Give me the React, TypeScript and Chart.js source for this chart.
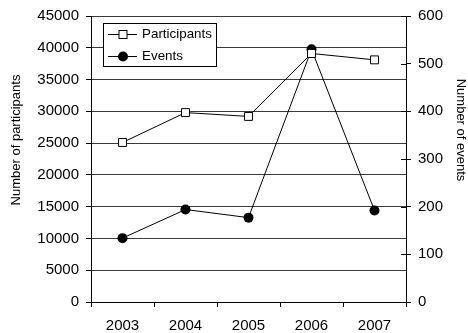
import React, { useEffect, useRef } from "react";
import { Chart, registerables } from "chart.js";

Chart.register(...registerables);

// Yearly totals
const years = ["2003", "2004", "2005", "2006", "2007"];
const participants = [25100, 29800, 29200, 39100, 38100];
const events = [134, 194, 177, 530, 192];

// Axis ranges
const participantsMax = 45000;
const participantsStep = 5000;
const eventsMax = 600;
const eventsStep = 100;

const leftTitle = "Number of participants";
const rightTitle = "Number of events";

const FONT = "'Liberation Sans', Arial, Helvetica, sans-serif";

const plain = (v: any) => String(v);

const decor = {
  id: "decor",
  afterDraw(chart: any) {
    const ctx: CanvasRenderingContext2D = chart.ctx;
    const area = chart.chartArea;
    const y1 = chart.scales.y1;
    ctx.save();

    // inner half of the right-axis tick marks
    ctx.strokeStyle = "#000";
    ctx.lineWidth = 1;
    y1.ticks.forEach((_t: any, i: number) => {
      const py = Math.round(y1.getPixelForTick(i)) + 0.5;
      ctx.beginPath();
      ctx.moveTo(area.right - 5, py);
      ctx.lineTo(area.right, py);
      ctx.stroke();
    });

    // axis titles
    ctx.fillStyle = "#000";
    ctx.textAlign = "center";
    ctx.textBaseline = "middle";
    ctx.font = `13px ${FONT}`;
    ctx.save();
    ctx.translate(16, 140);
    ctx.rotate(-Math.PI / 2);
    ctx.fillText(leftTitle, 0, 0);
    ctx.restore();
    ctx.save();
    ctx.translate(461, 130);
    ctx.rotate(Math.PI / 2);
    ctx.fillText(rightTitle, 0, 0);
    ctx.restore();

    // legend box
    const bx = 103.5, by = 23.5, bw = 113, bh = 43;
    ctx.fillStyle = "#fff";
    ctx.fillRect(bx, by, bw, bh);
    ctx.strokeStyle = "#000";
    ctx.strokeRect(bx, by, bw, bh);
    const rows = [34, 56];
    chart.data.datasets.forEach((ds: any, i: number) => {
      const y = rows[i] + 0.5;
      ctx.strokeStyle = "#000";
      ctx.lineWidth = 1;
      ctx.beginPath();
      ctx.moveTo(108, y);
      ctx.lineTo(137, y);
      ctx.stroke();
      if (ds.pointStyle === "rect") {
        ctx.fillStyle = "#fff";
        ctx.fillRect(119, y - 4, 8, 8);
        ctx.strokeRect(119, y - 4, 8, 8);
      } else {
        ctx.fillStyle = "#000";
        ctx.beginPath();
        ctx.arc(123, y, ds.pointRadius, 0, Math.PI * 2);
        ctx.fill();
      }
      ctx.fillStyle = "#000";
      ctx.textAlign = "left";
      ctx.textBaseline = "middle";
      ctx.font = `13.4px ${FONT}`;
      ctx.fillText(ds.label, 142, y);
    });
    ctx.restore();
  },
};

export default function App() {
  const ref = useRef<HTMLCanvasElement | null>(null);

  useEffect(() => {
    if (!ref.current) return;
    const chart = new Chart(ref.current, {
      type: "line",
      data: {
        labels: years,
        datasets: [
          {
            label: "Participants",
            data: participants,
            yAxisID: "y",
            borderColor: "#000",
            borderWidth: 1,
            pointStyle: "rect",
            pointRadius: 5.6,
            pointBackgroundColor: "#fff",
            pointBorderColor: "#000",
            pointBorderWidth: 1,
            tension: 0,
          },
          {
            label: "Events",
            data: events,
            yAxisID: "y1",
            borderColor: "#000",
            borderWidth: 1,
            pointStyle: "circle",
            pointRadius: 5,
            pointBackgroundColor: "#000",
            pointBorderColor: "#000",
            pointBorderWidth: 0,
            tension: 0,
          },
        ],
      },
      options: {
        responsive: false,
        animation: false,
        devicePixelRatio: 1,
        layout: { padding: { top: 15, left: 0, right: 0, bottom: 0 } },
        plugins: { legend: { display: false }, tooltip: { enabled: false } },
        scales: {
          x: {
            type: "category",
            offset: true,
            grid: {
              offset: true,
              drawOnChartArea: false,
              drawTicks: true,
              tickLength: 5,
              tickColor: "#000",
            },
            border: { color: "#000" },
            ticks: { color: "#000", font: { family: FONT, size: 15 }, padding: 10, maxRotation: 0 },
            afterFit: (s: any) => {
              s.height = 31;
            },
          },
          y: {
            position: "left",
            min: 0,
            max: participantsMax,
            ticks: {
              stepSize: participantsStep,
              color: "#000",
              font: { family: FONT, size: 15 },
              padding: 7,
              callback: plain,
            },
            grid: { color: "#3a3a3a", tickColor: "#000", tickLength: 5 },
            border: { color: "#000" },
            afterFit: (s: any) => {
              s.width = 91;
            },
          },
          y1: {
            position: "right",
            min: 0,
            max: eventsMax,
            ticks: {
              stepSize: eventsStep,
              color: "#000",
              font: { family: FONT, size: 15 },
              padding: 7,
              callback: plain,
            },
            grid: { drawOnChartArea: false, tickColor: "#000", tickLength: 5 },
            border: { color: "#000" },
            afterFit: (s: any) => {
              s.width = 62;
            },
          },
        },
      },
      plugins: [decor],
    });
    return () => chart.destroy();
  }, []);

  return (
    <div style={{ position: "absolute", left: 0, top: 0, width: 468, height: 333, background: "#fff" }}>
      <canvas ref={ref} width={468} height={333} />
    </div>
  );
}
